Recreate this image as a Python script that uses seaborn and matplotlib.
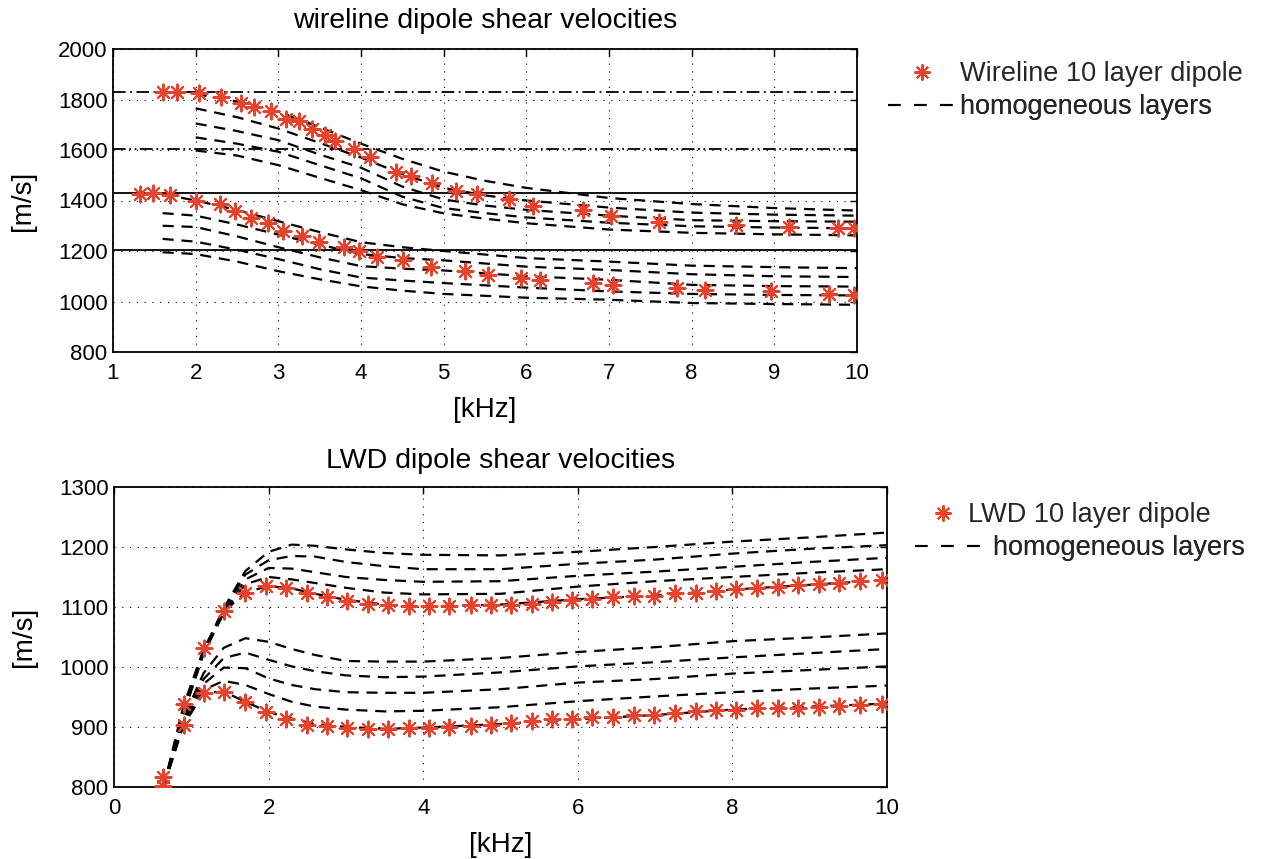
import matplotlib
matplotlib.use("Agg")
import matplotlib.pyplot as plt
import pandas as pd
import seaborn as sns
from matplotlib.lines import Line2D

# ---------------- Wireline (top panel) ----------------
wl_star_fast_f = [1.61, 1.78, 2.04, 2.31, 2.55, 2.71, 2.91, 3.09, 3.25, 3.41, 3.56, 3.68, 3.91, 4.11,
                  4.42, 4.61, 4.86, 5.15, 5.40, 5.79, 6.08, 6.68, 7.02, 7.61, 8.54, 9.18, 9.77, 9.96]
wl_star_fast_v = [1828, 1828, 1824, 1808, 1787, 1771, 1755, 1722, 1714, 1685, 1660, 1636, 1602, 1571,
                  1514, 1498, 1470, 1439, 1425, 1405, 1379, 1362, 1340, 1316, 1303, 1294, 1290, 1290]
wl_star_slow_f = [1.33, 1.48, 1.69, 2.00, 2.29, 2.48, 2.67, 2.88, 3.06, 3.29, 3.49, 3.80, 3.98, 4.19,
                  4.51, 4.85, 5.26, 5.54, 5.93, 6.16, 6.81, 7.05, 7.82, 8.16, 8.96, 9.66, 9.96]
wl_star_slow_v = [1426, 1428, 1422, 1398, 1385, 1358, 1332, 1310, 1279, 1260, 1237, 1215, 1199, 1178,
                  1165, 1138, 1121, 1106, 1092, 1086, 1075, 1066, 1055, 1046, 1042, 1030, 1024]

wl_fast_f = [2.0, 2.5, 3.0, 3.5, 4.0, 4.5, 5.0, 5.5, 6.0, 7.0, 8.0, 9.0, 10.0]
wl_fast_1 = [1822, 1792, 1752, 1690, 1625, 1565, 1514, 1478, 1450, 1410, 1386, 1370, 1360]
wl_fast_2 = [1765, 1730, 1685, 1628, 1570, 1505, 1450, 1420, 1400, 1372, 1352, 1344, 1340]
wl_fast_3 = [1705, 1675, 1639, 1582, 1530, 1455, 1404, 1380, 1363, 1340, 1322, 1318, 1316]
wl_fast_4 = [1650, 1625, 1593, 1540, 1488, 1415, 1370, 1350, 1333, 1312, 1298, 1293, 1290]
wl_fast_5 = [1598, 1578, 1540, 1490, 1441, 1385, 1349, 1328, 1310, 1285, 1272, 1266, 1262]

wl_slow_f = [1.6, 2.0, 2.5, 3.0, 3.5, 4.0, 4.5, 5.0, 6.0, 7.0, 8.0, 9.0, 10.0]
wl_slow_1 = [1425, 1400, 1362, 1318, 1275, 1235, 1215, 1200, 1172, 1158, 1142, 1136, 1132]
wl_slow_2 = [1350, 1340, 1305, 1265, 1225, 1188, 1172, 1163, 1138, 1125, 1108, 1100, 1097]
wl_slow_3 = [1300, 1295, 1258, 1215, 1175, 1140, 1130, 1123, 1100, 1086, 1066, 1061, 1059]
wl_slow_4 = [1248, 1237, 1205, 1168, 1128, 1095, 1083, 1073, 1055, 1040, 1030, 1026, 1024]
wl_slow_5 = [1195, 1188, 1158, 1120, 1088, 1060, 1043, 1030, 1015, 1007, 994, 990, 987]

wl_ref_v = [1828, 1604, 1428, 1204]

# ---------------- LWD (bottom panel) ----------------
lwd_star_f = [0.64, 0.90, 1.16, 1.42, 1.69, 1.96, 2.22, 2.50, 2.76, 3.02, 3.28, 3.55, 3.82, 4.08,
              4.34, 4.62, 4.88, 5.13, 5.41, 5.67, 5.93, 6.19, 6.46, 6.73, 6.99, 7.26, 7.53, 7.79,
              8.05, 8.32, 8.59, 8.85, 9.12, 9.38, 9.65, 9.94]
lwd_star_fast_v = [816, 938, 1031, 1093, 1124, 1135, 1132, 1124, 1116, 1110, 1105, 1103, 1102, 1101,
                   1102, 1103, 1103, 1104, 1105, 1108, 1112, 1114, 1117, 1119, 1119, 1123, 1124, 1127,
                   1130, 1132, 1134, 1136, 1138, 1140, 1143, 1145]
lwd_star_slow_v = [802, 903, 957, 959, 942, 925, 913, 903, 901, 899, 897, 897, 899, 899,
                   900, 902, 903, 907, 910, 913, 913, 916, 917, 920, 920, 923, 926, 928,
                   929, 931, 932, 932, 934, 935, 936, 939]

lwd_f = [0.64, 0.9, 1.16, 1.42, 1.7, 2.0, 2.3, 2.6, 3.0, 3.5, 4.0, 5.0, 6.0, 7.0, 8.0, 9.0, 10.0]
lwd_fast_1 = [800, 928, 1028, 1098, 1160, 1192, 1204, 1202, 1196, 1190, 1187, 1186, 1192, 1200, 1209, 1216, 1224]
lwd_fast_2 = [800, 926, 1026, 1096, 1154, 1178, 1185, 1184, 1175, 1168, 1163, 1163, 1172, 1179, 1189, 1197, 1203]
lwd_fast_3 = [800, 924, 1024, 1092, 1146, 1165, 1164, 1158, 1150, 1145, 1142, 1143, 1152, 1159, 1167, 1175, 1182]
lwd_fast_4 = [800, 922, 1022, 1090, 1138, 1150, 1146, 1140, 1132, 1124, 1121, 1122, 1134, 1143, 1150, 1157, 1163]
lwd_fast_5 = [800, 936, 1030, 1092, 1124, 1135, 1131, 1122, 1112, 1104, 1101, 1104, 1113, 1119, 1129, 1137, 1145]
lwd_slow_1 = [800, 915, 990, 1032, 1048, 1042, 1030, 1020, 1010, 1009, 1009, 1015, 1025, 1033, 1043, 1049, 1056]
lwd_slow_2 = [800, 912, 980, 1015, 1024, 1012, 1001, 993, 986, 983, 984, 991, 1001, 1008, 1016, 1023, 1030]
lwd_slow_3 = [800, 909, 972, 999, 998, 981, 970, 963, 958, 957, 957, 963, 974, 980, 989, 995, 1001]
lwd_slow_4 = [800, 906, 962, 977, 970, 955, 942, 934, 929, 926, 927, 933, 943, 951, 958, 964, 969]
lwd_slow_5 = [800, 903, 957, 959, 942, 925, 914, 905, 900, 897, 899, 905, 913, 920, 929, 934, 939]

titles = ["wireline dipole shear velocities", "LWD dipole shear velocities"]
star_labels = ["Wireline 10 layer dipole", "LWD 10 layer dipole"]
dash_label = "homogeneous layers"
xlabel = "[kHz]"
ylabel = "[m/s]"

# ---------------- styling ----------------
sns.set_theme(style="white")
FONT = ["Liberation Sans", "DejaVu Sans"]
plt.rcParams["font.family"] = FONT
plt.rcParams["axes.unicode_minus"] = False

RED = "#e4432d"
STAR = (8, 2, 0)
DASH = (0, (5, 3.5))
TICK_FS = 16
TITLE_FS = 20.5
LAB_FS = 20
LEG_FS = 19.5

W, H = 1266, 859
fig = plt.figure(figsize=(W / 100, H / 100), dpi=100)
ax1 = fig.add_axes([113 / W, 1 - 352 / H, (857 - 113) / W, (352 - 49) / H])
ax2 = fig.add_axes([114 / W, 1 - 787 / H, (887 - 114) / W, (787 - 487) / H])


def curves_frame(f, series):
    rows = []
    for i, v in enumerate(series):
        rows.append(pd.DataFrame({"f": f, "v": v, "curve": i}))
    return pd.concat(rows, ignore_index=True)


def style_axes(ax):
    ax.grid(True, linestyle=(0, (1, 6)), color="black", linewidth=0.8)
    ax.tick_params(direction="in", top=True, right=True, length=5, width=1.0,
                   labelsize=TICK_FS, colors="black", pad=4)
    ax.tick_params(axis="x", pad=8)
    for s in ax.spines.values():
        s.set_color("black")
        s.set_linewidth(1.3)
    for lab in ax.get_xticklabels() + ax.get_yticklabels():
        lab.set_family(FONT)


# top panel
ref_styles = [(0, (7, 2.5, 1, 2.5)), (0, (7, 2, 1, 2, 1, 2)), "-", "-"]
for v, ls in zip(wl_ref_v, ref_styles):
    ax1.axhline(v, color="black", linewidth=1.3, linestyle=ls, zorder=2)

top_fast = curves_frame(wl_fast_f, [wl_fast_1, wl_fast_2, wl_fast_3, wl_fast_4, wl_fast_5])
top_slow = curves_frame(wl_slow_f, [wl_slow_1, wl_slow_2, wl_slow_3, wl_slow_4, wl_slow_5])
for df in (top_fast, top_slow):
    sns.lineplot(data=df, x="f", y="v", units="curve", estimator=None, color="black",
                 linewidth=1.6, linestyle=DASH, legend=False, ax=ax1, zorder=3)
sns.scatterplot(x=wl_star_fast_f + wl_star_slow_f, y=wl_star_fast_v + wl_star_slow_v,
                marker=STAR, color=RED, s=130, linewidth=1.5, legend=False, ax=ax1, zorder=4)
ax1.set_xlim(1, 10)
ax1.set_ylim(800, 2000)
ax1.set_xticks(range(1, 11))
ax1.set_yticks(range(800, 2001, 200))

# bottom panel
bot_fast = curves_frame(lwd_f, [lwd_fast_1, lwd_fast_2, lwd_fast_3, lwd_fast_4, lwd_fast_5])
bot_slow = curves_frame(lwd_f, [lwd_slow_1, lwd_slow_2, lwd_slow_3, lwd_slow_4, lwd_slow_5])
for df in (bot_fast, bot_slow):
    sns.lineplot(data=df, x="f", y="v", units="curve", estimator=None, color="black",
                 linewidth=1.6, linestyle=DASH, legend=False, ax=ax2, zorder=3)
sns.scatterplot(x=lwd_star_f + lwd_star_f, y=lwd_star_fast_v + lwd_star_slow_v,
                marker=STAR, color=RED, s=130, linewidth=1.5, legend=False, ax=ax2, zorder=4)
ax2.set_xlim(0, 10)
ax2.set_ylim(800, 1300)
ax2.set_xticks(range(0, 11, 2))
ax2.set_yticks(range(800, 1301, 100))

for ax, title, tpad in zip((ax1, ax2), titles, (15, 14)):
    style_axes(ax)
    ax.set_title(title, fontsize=TITLE_FS, family=FONT, pad=tpad, color="black")
    ax.set_xlabel(xlabel, fontsize=LAB_FS, family=FONT, labelpad=9, color="black")
    ax.set_ylabel(ylabel, fontsize=LAB_FS, family=FONT, labelpad=16, color="black")

# legends (one row each, placed like the original)
star_h = Line2D([], [], linestyle="none", marker=STAR, color=RED, markersize=11.5, markeredgewidth=1.5)
dash_h = Line2D([], [], linestyle=(0, (6, 6.5)), color="black", linewidth=1.5)
em = LEG_FS * 100 / 72


def add_leg(handle, label, x_left, x_text, y_center, ax):
    hl = (x_text - 5 - x_left) / em
    leg = ax.legend([handle], [label], loc="center left", frameon=False,
                    bbox_to_anchor=(x_left / W, 1 - y_center / H), bbox_transform=fig.transFigure,
                    borderpad=0, borderaxespad=0, handlelength=hl, handletextpad=5 / em,
                    prop={"family": FONT, "size": LEG_FS})
    ax.add_artist(leg)


add_leg(star_h, star_labels[0], 888, 960, 74, ax1)
add_leg(dash_h, dash_label, 888, 960, 107, ax1)
add_leg(star_h, star_labels[1], 922, 968, 515, ax2)
add_leg(dash_h, dash_label, 915, 993, 548, ax2)

fig.savefig("out.png", dpi=100)
